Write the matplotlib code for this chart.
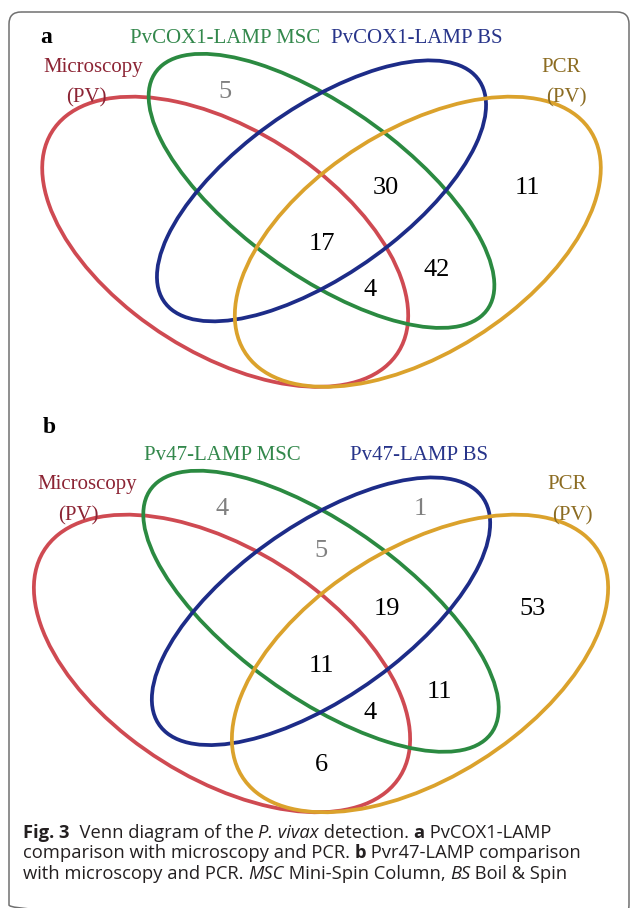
import matplotlib
matplotlib.use("Agg")
import matplotlib.pyplot as plt
from matplotlib.patches import Ellipse, FancyBboxPatch

W, H = 630, 908

# sets: 0 Microscopy, 1 LAMP MSC, 2 LAMP BS, 3 PCR
names_a = ["Microscopy", "PvCOX1-LAMP MSC", "PvCOX1-LAMP BS", "PCR"]
names_b = ["Microscopy", "Pv47-LAMP MSC", "Pv47-LAMP BS", "PCR"]
sub_names = ["(PV)", "", "", "(PV)"]

regions_a = [(1,), (1, 2, 3), (3,), (0, 1, 2, 3), (1, 3), (0, 1, 3)]
counts_a = [5, 30, 11, 17, 42, 4]

regions_b = [(1,), (2,), (1, 2), (1, 2, 3), (3,), (0, 1, 2, 3), (1, 3), (0, 1, 3), (0, 3)]
counts_b = [4, 1, 5, 19, 53, 11, 11, 4, 6]

caption = [
    [("Fig. 3", "bold", "normal"), ("  Venn diagram of the ", "normal", "normal"),
     ("P. vivax", "normal", "italic"), (" detection. ", "normal", "normal"),
     ("a", "bold", "normal"), (" PvCOX1-LAMP", "normal", "normal")],
    [("comparison with microscopy and PCR. ", "normal", "normal"),
     ("b", "bold", "normal"), (" Pvr47-LAMP comparison", "normal", "normal")],
    [("with microscopy and PCR. ", "normal", "normal"), ("MSC", "normal", "italic"),
     (" Mini-Spin Column, ", "normal", "normal"), ("BS", "normal", "italic"),
     (" Boil & Spin", "normal", "normal")],
]

# layout (unit square, quad venn style)
ell_xy = [(0.35, 0.47), (0.50, 0.57), (0.50, 0.57), (0.65, 0.47)]
ell_ab = [(0.35, 0.20), (0.35, 0.15), (0.33, 0.15), (0.35, 0.20)]
ell_ang = [-45, -45, 45, 45]
line_col = ["#cf4a52", "#2b8a41", "#1d2c88", "#dba22c"]
text_col = ["#8c2434", "#33884c", "#27348a", "#8c6c22"]
name_pos = [(0.145, 0.817), (0.35, 0.874), (0.648, 0.874), (0.873, 0.817)]
sub_pos = [(0.133, 0.758), None, None, (0.881, 0.758)]
region_pos = {
    (1,): (0.35, 0.77), (2,): (0.65, 0.77), (1, 2): (0.50, 0.69),
    (1, 2, 3): (0.60, 0.58), (3,): (0.82, 0.58), (0, 1, 2, 3): (0.50, 0.47),
    (1, 3): (0.68, 0.42), (0, 1, 3): (0.575, 0.38), (0, 3): (0.50, 0.28),
}

serif = "Liberation Serif"
fig = plt.figure(figsize=(W / 100, H / 100), dpi=100)
fig.patch.set_facecolor("white")


def panel_axes(x0, y0, sx, sy):
    ax = fig.add_axes([0, 0, 1, 1])
    ax.set_xlim(-x0 / sx, (W - x0) / sx)
    ax.set_ylim((y0 - H) / sy, y0 / sy)
    ax.axis("off")
    return ax


def draw_venn(ax, names, regions, counts):
    for i in range(4):
        e = Ellipse(ell_xy[i], 2 * ell_ab[i][0], 2 * ell_ab[i][1], angle=ell_ang[i],
                    fill=False, edgecolor=line_col[i], lw=2.7)
        ax.add_patch(e)
        ax.text(*name_pos[i], names[i], color=text_col[i], fontsize=15, family=serif,
                ha="center", va="center_baseline")
        if sub_pos[i] is not None:
            ax.text(*sub_pos[i], sub_names[i], color=text_col[i], fontsize=15,
                    family=serif, ha="center", va="center_baseline")
    for reg, n in zip(regions, counts):
        # regions outside both microscopy and PCR are shown in gray
        c = "#808080" if (0 not in reg and 3 not in reg) else "black"
        ax.text(*region_pos[reg], str(n), color=c, fontsize=19, family=serif,
                ha="center", va="center_baseline")


ax_a = panel_axes(0.5, 481, 642, 509)
draw_venn(ax_a, names_a, regions_a, counts_a)
ax_b = panel_axes(-9, 908.8, 660, 522)
draw_venn(ax_b, names_b, regions_b, counts_b)

# overlay in pixel coords for frame and panel letters
ov = fig.add_axes([0, 0, 1, 1])
ov.set_xlim(0, W)
ov.set_ylim(H, 0)
ov.axis("off")
ov.add_patch(FancyBboxPatch((9, 12), 620, 905, boxstyle="round,pad=0,rounding_size=12",
                            fill=False, edgecolor="#707070", lw=1.1))
ov.text(46, 35, "a", fontsize=17, fontweight="bold", family=serif,
        ha="center", va="center_baseline")
ov.text(49, 425, "b", fontsize=17, fontweight="bold", family=serif,
        ha="center", va="center_baseline")

# caption with mixed styles
renderer = fig.canvas.get_renderer()
cap_font = "Open Sans"
cap_size = 13.2


def run_width(s, weight, style):
    t1 = ov.text(0, 0, "." + s + ".", fontsize=cap_size, family=cap_font,
                 fontweight=weight, fontstyle=style)
    t2 = ov.text(0, 0, "..", fontsize=cap_size, family=cap_font,
                 fontweight=weight, fontstyle=style)
    w = t1.get_window_extent(renderer).width - t2.get_window_extent(renderer).width
    t1.remove()
    t2.remove()
    return w


for k, line in enumerate(caption):
    x = 23
    y = 831 + 20.5 * k
    for s, weight, style in line:
        ov.text(x, y, s, fontsize=cap_size, family=cap_font, fontweight=weight,
                fontstyle=style, color="#231f20", ha="left", va="center_baseline")
        x += run_width(s, weight, style)

fig.savefig("out.png", dpi=100)
